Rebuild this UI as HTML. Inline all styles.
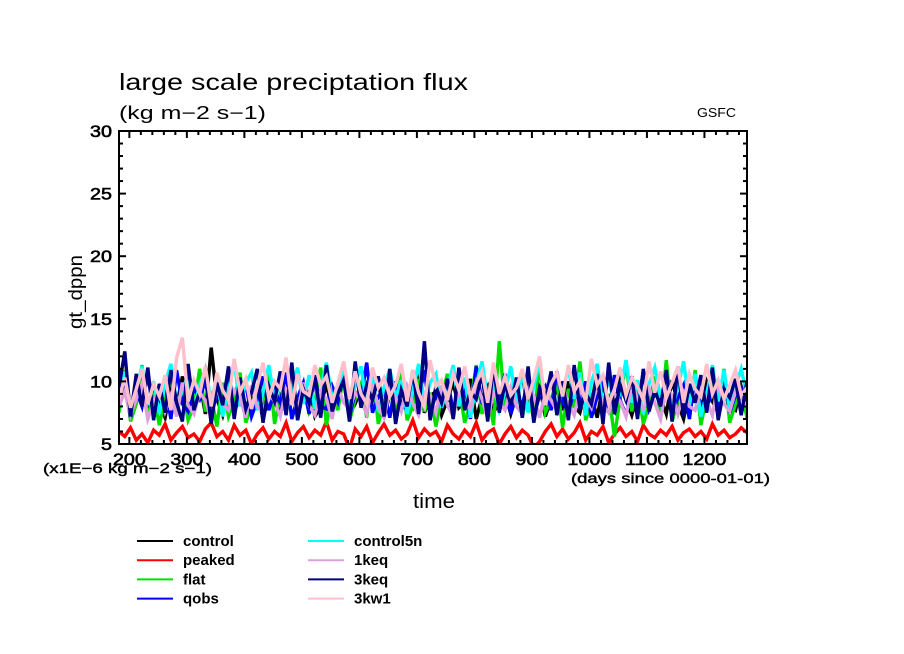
<!DOCTYPE html>
<html><head><meta charset="utf-8"><style>
html,body{margin:0;padding:0;background:#fff;}
svg{display:block;}
text{font-family:"Liberation Sans","DejaVu Sans",sans-serif;fill:#000;}
</style></head><body>
<svg id="chart" width="904" height="654" viewBox="0 0 904 654">
<rect x="0" y="0" width="904" height="654" fill="#fff"/>
<text x="119" y="90" font-size="23" textLength="349" lengthAdjust="spacingAndGlyphs">large scale preciptation flux</text>
<text x="119" y="119" font-size="18" textLength="147" lengthAdjust="spacingAndGlyphs">(kg m−2 s−1)</text>
<text x="697" y="117" font-size="13" textLength="39" lengthAdjust="spacingAndGlyphs">GSFC</text>
<text transform="translate(82,292) rotate(-90)" text-anchor="middle" font-size="19" textLength="74" lengthAdjust="spacingAndGlyphs">gt_dppn</text>
<text x="413" y="508" font-size="20" textLength="42" lengthAdjust="spacingAndGlyphs">time</text>
<text x="43" y="473" font-size="14" stroke="#000" stroke-width="0.4" textLength="169" lengthAdjust="spacingAndGlyphs">(x1E−6 kg m−2 s−1)</text>
<text x="571" y="483" font-size="14" stroke="#000" stroke-width="0.4" textLength="199" lengthAdjust="spacingAndGlyphs">(days since 0000-01-01)</text>
<g id="series"></g>
<g id="axes"></g>
<g id="legend"></g>
</svg>
<script>
const xTicks=[200,300,400,500,600,700,800,900,1000,1100,1200];
const yTicks=[5,10,15,20,25,30];
const seriesNames=["control","peaked","flat","qobs","control5n","1keq","3keq","3kw1"];
const seriesColors=["#000000","#ff0000","#00e000","#0000ff","#00ffff","#dda0dd","#000080","#ffc0cb"];
const control=[8.1,9.4,7.2,8.8,10.1,7.6,9.0,8.3,7.1,9.6,8.0,10.4,7.8,8.9,9.9,7.4,12.7,8.6,7.3,9.3,8.1,10.2,7.7,8.5,9.1,7.0,8.8,9.7,7.5,8.4,10.0,7.9,8.7,9.2,7.2,8.0,9.8,7.6,8.9,10.3,7.4,8.2,9.5,7.8,8.6,10.1,7.1,9.0,8.3,7.7,9.4,8.1,10.6,7.5,8.8,9.2,7.3,8.5,9.9,7.9,8.4,10.2,7.0,8.7,9.6,7.6,8.1,9.1,7.4,8.9,10.4,7.8,8.2,9.7,7.2,8.6,9.3,7.7,10.0,8.0,7.5,9.4,8.8,7.1,9.8,8.3,7.6,10.5,8.5,7.3,9.0,8.1,7.9,9.5,8.7,7.4,10.1,8.2,7.0,9.2,8.6,7.8,9.9,8.4,7.5,9.1,8.0,7.7,9.6,8.3];
const peaked=[6.0,5.6,6.3,5.3,5.8,5.1,6.1,5.7,6.6,5.3,5.9,6.4,5.5,5.8,5.2,6.2,6.7,5.6,6.0,5.3,6.5,5.7,6.1,5.0,5.8,6.3,5.4,6.0,5.6,6.7,5.2,5.9,6.4,5.5,6.1,5.7,6.8,5.3,6.0,5.8,4.6,6.2,5.6,6.4,5.1,5.9,6.6,5.7,6.1,5.4,5.8,6.9,5.5,6.2,5.7,6.0,5.2,6.5,5.8,5.4,6.1,5.6,6.7,5.3,5.9,6.2,5.0,5.8,6.4,5.5,6.1,5.7,4.7,5.2,6.0,6.6,5.6,6.2,5.4,5.9,6.7,5.3,6.0,5.7,6.4,5.1,5.8,6.3,5.6,6.0,5.2,6.5,5.8,5.5,6.1,5.7,6.4,5.3,5.9,6.2,5.6,6.0,5.4,6.6,5.7,6.1,5.5,5.8,6.3,5.9];
const flat=[7.5,10.9,6.8,8.2,11.3,7.0,9.1,6.5,8.7,10.4,7.3,9.6,6.9,8.0,11.0,7.6,8.8,6.4,9.9,7.2,8.5,10.7,6.7,8.1,9.4,7.4,11.2,6.6,8.9,7.8,10.1,6.9,9.3,7.5,8.3,11.1,6.5,9.0,7.7,10.5,6.8,8.6,9.8,7.1,10.8,6.6,8.4,9.5,7.3,11.0,6.9,8.0,10.2,7.6,9.1,6.4,8.8,10.6,7.0,9.7,6.7,8.2,11.3,7.4,9.2,6.5,13.2,7.8,8.9,10.3,7.1,9.5,6.8,11.4,7.5,8.6,10.0,6.3,9.4,7.9,11.6,6.9,8.3,10.7,7.2,9.0,5.6,8.7,11.5,7.6,9.8,6.6,8.1,10.4,7.3,11.7,6.8,8.5,9.6,7.0,10.9,6.5,8.8,9.9,7.4,11.0,6.7,8.2,9.3,7.1];
const qobs=[8.4,10.2,7.1,9.3,8.0,10.6,7.4,8.8,9.7,7.0,10.9,8.2,7.6,9.5,8.6,10.1,7.3,9.0,8.1,10.8,7.5,8.9,9.8,7.2,8.5,10.4,7.7,9.2,8.3,10.7,7.0,8.7,9.9,7.4,10.3,8.0,7.8,9.6,8.4,10.5,7.2,9.1,8.6,11.5,7.5,8.8,9.4,7.1,10.0,8.2,7.7,9.7,8.5,10.9,7.3,9.0,8.1,10.2,7.6,8.7,9.5,7.0,11.2,8.3,7.9,9.8,8.6,10.6,7.4,9.1,8.0,10.3,7.2,8.9,9.6,7.7,10.8,8.4,7.5,9.3,8.1,10.0,7.1,8.8,9.9,7.6,10.5,8.5,7.3,9.4,8.2,10.7,7.8,9.0,8.6,10.1,7.4,8.7,9.7,7.0,10.4,8.3,7.9,9.2,8.0,10.6,7.5,8.9,9.5,8.1];
const control5n=[9.0,10.8,7.6,9.5,11.2,8.1,10.0,7.4,9.8,11.4,8.3,9.2,10.6,7.9,9.7,11.0,8.5,10.3,7.2,9.4,11.6,8.0,9.9,10.7,7.7,9.1,11.3,8.4,10.2,7.5,9.6,11.1,8.2,10.5,7.8,9.3,11.5,8.6,9.0,10.9,7.3,9.8,11.2,8.1,10.4,7.6,9.5,11.0,8.7,10.1,7.4,9.2,11.4,8.3,9.9,10.6,7.9,9.4,11.3,8.0,10.3,7.1,9.7,11.6,8.5,10.0,7.7,9.1,11.2,8.2,10.8,7.5,9.6,11.5,8.4,10.2,7.8,9.3,11.0,8.6,10.7,7.3,9.9,11.4,8.0,10.5,7.6,9.2,11.7,8.3,10.1,7.4,9.8,11.1,8.7,10.4,7.9,9.5,11.6,8.1,10.6,7.2,9.0,11.3,8.4,10.9,7.7,9.6,11.0,8.8];
const keq1=[8.0,9.2,7.3,8.6,9.8,7.0,8.3,9.5,7.6,8.9,7.2,9.9,8.1,7.4,9.1,8.5,7.0,9.6,8.2,7.7,9.3,8.7,7.1,9.7,8.0,7.5,9.0,8.4,7.2,9.4,8.8,7.6,9.9,8.1,7.3,9.2,8.6,7.0,9.5,8.3,7.8,9.1,8.5,7.4,9.8,8.0,7.1,9.3,8.7,7.6,9.6,8.2,7.3,9.0,8.9,7.5,9.7,8.1,7.2,9.4,8.4,7.8,9.9,8.6,7.0,9.1,8.3,7.7,9.5,8.0,7.4,9.8,8.8,7.1,9.2,8.5,7.6,9.6,8.2,7.3,9.3,8.7,7.9,9.7,8.1,7.5,9.0,8.4,7.2,9.9,8.6,7.8,9.4,8.3,7.0,9.6,8.9,7.4,9.1,8.0,7.7,9.5,8.5,7.3,9.8,8.2,7.6,9.2,8.7,8.0];
const keq3=[9.5,12.4,7.2,10.6,8.0,11.1,6.9,9.8,7.5,10.9,8.3,6.8,11.4,7.7,9.2,10.7,6.6,9.9,8.1,11.2,7.0,10.3,7.8,9.1,11.0,6.7,9.6,8.4,10.8,7.3,11.5,6.9,9.4,8.2,10.5,7.1,11.3,7.6,9.0,10.1,6.8,11.6,7.9,9.7,8.5,10.4,7.2,11.0,6.6,9.3,8.0,10.9,7.4,13.2,6.9,9.6,8.3,10.2,7.0,11.1,7.7,9.2,8.6,10.7,6.8,11.4,7.5,9.9,8.1,10.3,7.1,11.2,6.7,9.5,8.4,10.8,7.3,10.0,6.9,11.3,7.8,9.1,8.2,10.6,6.6,11.5,7.4,9.7,8.5,10.4,7.0,11.0,7.6,9.3,8.0,10.9,6.8,11.2,7.2,9.8,8.3,10.5,7.5,11.1,6.9,9.4,8.7,10.2,7.3,10.0];
const kw1=[8.6,10.3,7.9,9.4,11.0,8.2,9.8,8.8,10.5,7.7,11.9,13.5,8.4,10.1,9.0,11.2,8.0,10.7,9.3,8.5,11.8,9.1,10.2,7.8,9.6,11.5,8.7,10.0,9.4,11.9,8.1,10.6,9.2,8.9,11.3,9.7,10.4,8.3,9.9,11.6,8.6,10.8,9.0,8.2,11.1,9.5,10.3,8.8,9.7,11.4,8.4,10.9,9.1,8.0,11.7,9.6,10.1,8.5,10.6,9.3,11.2,8.7,9.9,10.8,8.3,11.5,9.0,10.4,8.9,9.5,11.0,8.6,10.2,12.0,8.1,9.8,10.7,8.8,11.3,9.2,10.0,8.4,11.8,9.7,10.5,8.2,9.4,11.1,8.9,10.3,9.6,8.5,11.6,9.1,10.8,8.7,9.9,11.2,8.3,10.6,9.4,8.8,11.4,9.0,10.1,8.6,9.7,10.9,8.9,9.5];
const seriesData=[control,peaked,flat,qobs,control5n,keq1,keq3,kw1];
const dayStart=182, dayEnd=1274;
const NS="http://www.w3.org/2000/svg";
const L=119,R=747,T=131,B=444;
const yMin=5,yMax=30;
function xScale(d){return L+(d-dayStart)/(dayEnd-dayStart)*(R-L);}
function yScale(v){return B-(v-yMin)/(yMax-yMin)*(B-T);}
function mk(tag,attrs,parent){const e=document.createElementNS(NS,tag);for(const k in attrs)e.setAttribute(k,attrs[k]);parent.appendChild(e);return e;}
const sg=document.getElementById('series');
const defs=mk('defs',{},sg);
const cp=mk('clipPath',{id:'clip'},defs);
mk('rect',{x:L,y:T,width:R-L,height:B-T},cp);
seriesData.forEach((arr,si)=>{
  const n=arr.length;
  const pts=arr.map((v,i)=>{const d=dayStart+i*(dayEnd-dayStart)/(n-1);return xScale(d).toFixed(1)+','+yScale(v).toFixed(1);}).join(' ');
  const p=mk('polyline',{points:pts,fill:'none',stroke:seriesColors[si],'stroke-width':3.4,'stroke-linejoin':'miter','clip-path':'url(#clip)'},sg);
  
  
});
const ax=document.getElementById('axes');
const frame=mk('rect',{x:L,y:T,width:R-L,height:B-T,fill:'none',stroke:'#000','stroke-width':2},ax);


for(let d=200;d<=dayEnd;d+=20){
  const x=xScale(d);const major=(d%100===0);const len=major?7:4;
  mk('line',{x1:x,y1:B,x2:x,y2:B-len,stroke:'#000','stroke-width':2},ax);
  mk('line',{x1:x,y1:T,x2:x,y2:T+len,stroke:'#000','stroke-width':2},ax);
}
xTicks.forEach(d=>{
  const w=String(d).length*11;
  const t=mk('text',{x:xScale(d)-w/2,y:B+21,'font-size':17,stroke:'#000','stroke-width':0.6,textLength:w,lengthAdjust:'spacingAndGlyphs'},ax);
  t.textContent=d;
  
  
});
for(let v=yMin;v<=yMax;v+=1){
  const y=yScale(v);const major=(v%5===0);const len=major?7:4;
  mk('line',{x1:L,y1:y,x2:L+len,y2:y,stroke:'#000','stroke-width':2},ax);
  mk('line',{x1:R,y1:y,x2:R-len,y2:y,stroke:'#000','stroke-width':2},ax);
}
yTicks.forEach(v=>{
  const w=String(v).length*11;
  const t=mk('text',{x:112-w,y:yScale(v)+6,'font-size':17,stroke:'#000','stroke-width':0.6,textLength:w,lengthAdjust:'spacingAndGlyphs'},ax);
  t.textContent=v;
  
  
});
const lg=document.getElementById('legend');
seriesNames.forEach((nm,i)=>{
  const col=Math.floor(i/4),row=i%4;
  const x0=col?308:137, y0=541+row*19.2;
  const g=mk('g',{},lg);
  
  
  mk('line',{x1:x0,y1:y0,x2:x0+36,y2:y0,stroke:seriesColors[i],'stroke-width':2},g);
  const t=mk('text',{x:x0+46,y:y0+5,'font-size':15,'font-weight':'bold'},g);
  t.textContent=nm;
});
</script>
</body></html>
